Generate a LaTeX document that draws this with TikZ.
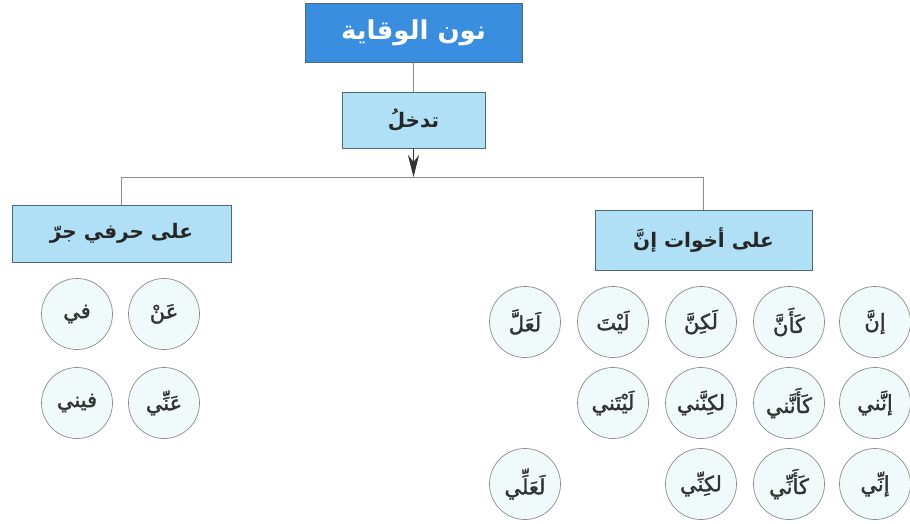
\documentclass[tikz,border=0pt]{standalone}
\usepackage{fontspec}
\usetikzlibrary{arrows.meta}
\TeXXeTstate=1
\newfontfamily\arabicfont[Script=Arabic,FakeBold=1.5]{DejaVu Sans}
\newfontfamily\arabicbold[Script=Arabic]{DejaVu Sans Bold}
\definecolor{topblue}{HTML}{3A8EE0}
\definecolor{lightbox}{HTML}{B0E0F5}
\definecolor{boxedge}{HTML}{4F6878}
\definecolor{circfill}{HTML}{F1FAFA}
\definecolor{circedge}{HTML}{8A8A8A}
\definecolor{linegray}{HTML}{8C8C8C}
\tikzset{
  topbox/.style={draw=boxedge, line width=0.8pt, fill=topblue, minimum width=217pt, minimum height=59pt, inner sep=0pt, text=white, font=\arabicbold\fontsize{26}{30}\selectfont},
  subbox/.style={draw=boxedge, line width=0.8pt, fill=lightbox, inner sep=0pt, text=black!85, font=\arabicbold\fontsize{20}{24}\selectfont},
  word/.style={circle, draw=circedge, line width=0.7pt, fill=circfill, minimum size=71pt, inner sep=0pt, text=black!80, font=\arabicfont\fontsize{21}{25}\selectfont},
  conn/.style={draw=linegray, line width=0.7pt}
}
\newcommand{\ar}[1]{\beginR #1\endR}
\begin{document}
\begin{tikzpicture}[x=1pt,y=-1pt]
\useasboundingbox (0,0) rectangle (910,523);
\node[topbox] (top) at (413.5,32.5) {\ar{نون الوقاية}};
\node[subbox, minimum width=143pt, minimum height=56pt] (enter) at (413.5,120) {\ar{تدخلُ}};
\node[subbox, minimum width=219pt, minimum height=57pt] (lbox) at (121.5,233.5) {\ar{على حرفي جرّ}};
\node[subbox, minimum width=217pt, minimum height=60pt] (rbox) at (703.5,240) {\ar{على أخوات إنَّ}};
\coordinate (hub) at (413.5,177);
\draw[conn] (top.south) -- (enter.north);
\draw[conn, -{Stealth[length=22pt,width=11pt,inset=7pt]}, black!80] (enter.south) -- (hub);
\draw[conn] (hub) -| (lbox.north);
\draw[conn] (hub) -| (rbox.north);
% left circles
\node[word] (fi) at (77,314) {\ar{في}};
\node[word] (an) at (164,314) {\ar{عَنْ}};
\node[word] (fini) at (77,403) {\ar{فيني}};
\node[word] (anni) at (164,403) {\ar{عَنِّي}};
% right circles row 1
\node[word] (inna) at (875,322) {\ar{إنَّ}};
\node[word] (kaanna) at (789,322) {\ar{كَأَنَّ}};
\node[word] (lakinna) at (701,322) {\ar{لَكِنَّ}};
\node[word] (layta) at (613,322) {\ar{لَيْتَ}};
\node[word] (laalla) at (525,322) {\ar{لَعَلَّ}};
% row 2
\node[word] (innani) at (875,403) {\ar{إنَّني}};
\node[word] (kaannani) at (789,403) {\ar{كَأَنَّني}};
\node[word] (lakinnani) at (701,403) {\ar{لكِنَّني}};
\node[word] (laytani) at (613,403) {\ar{لَيْتَني}};
% row 3
\node[word] (inni) at (875,484) {\ar{إنِّي}};
\node[word] (kaanni) at (789,484) {\ar{كَأَنِّي}};
\node[word] (lakinni) at (701,484) {\ar{لكِنِّي}};
\node[word] (laalli) at (525,484) {\ar{لَعَلِّي}};
\end{tikzpicture}
\end{document}
